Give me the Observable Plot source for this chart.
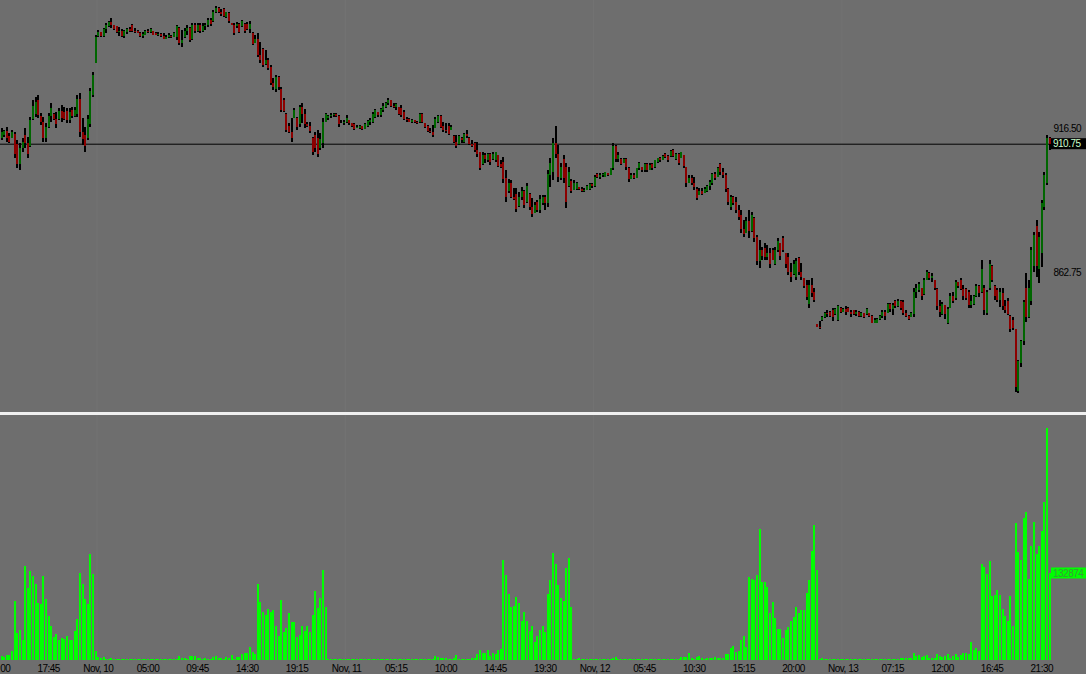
<!DOCTYPE html>
<html><head><meta charset="utf-8">
<script src="https://cdn.jsdelivr.net/npm/d3@7"></script>
<script src="https://cdn.jsdelivr.net/npm/@observablehq/plot@0.6"></script>
<style>
html,body{margin:0;padding:0;background:#6e6e6e;overflow:hidden;width:1086px;height:674px;}
#chart{width:1086px;position:relative;}
#chart svg{display:block;}
.divider{height:3px;background:#f0f0f0;}
</style></head><body><div id="chart"></div>
<script>
// ---- price bars (15-minute), index 1..402 ----
const high = [
916.5,916,917,914.75,915.75,915,912,911,912.75,916.5,
913.25,920.75,927,928.25,929,922.25,920.75,918.5,922.25,926,
922.25,922.5,924,925.25,924.5,924,924,924.5,924.5,929,
929.75,920.25,917,921.5,931.5,937.5,951.25,953.25,952.5,954,
955.75,956.5,957.75,955,954.75,954.25,953.5,953.25,954,954.25,
955.5,954,953.25,952.5,952.5,953.25,953.5,954,952.75,952.5,
952.5,952,952,951.25,952,951.25,952.5,955,954.25,953.25,
954,955,954.25,955.75,955.75,955.75,955.75,955.75,955.75,957.75,
957.75,960.75,962.25,961.75,961,961.5,960,960,955.75,955.75,
956.25,955.75,957,955.75,956.25,956.5,952.5,951.25,952,948.75,
946.5,945.75,942.75,940.25,935.25,936.5,936,932,927.75,922.25,
918.5,920.25,924,920.75,925.25,926,923.75,918.75,918.75,913.25,
915,915.75,914.75,920.25,922.25,921.5,922.25,922.25,922.25,921.5,
919.5,919.5,921.5,919.5,918.5,918.5,917.75,917.75,917.25,918.5,
919.5,920.25,922.5,923.75,922.5,924,926,926.25,927.75,927,
926,926,924.5,925.25,923.25,920.75,920.25,920,919.5,919.25,
922.25,922.25,918.5,917.75,916.5,917.75,920.75,921.5,921.5,918.75,
918.5,918.5,917.75,914,914,914,913.25,914.75,915.75,913.25,
912,911.5,911.5,907.75,907.75,907.25,907.25,907.25,907.75,907.75,
906.5,904.75,905.75,900.75,897.75,897.25,894.25,894.25,892.75,894.5,
893.5,896,892.25,890.5,889,889.75,891.5,891.5,891.5,900.75,
905.5,912.75,917.25,910.25,903.5,906.5,903.5,902,897.75,897.25,
896.5,894.75,894.75,894.25,895.25,896,896,899,899.75,899.75,
899.75,900.25,899.75,901.75,911,910.25,907.75,905.5,905.5,905.5,
902,899.75,899.75,901.75,903.75,902,903.5,903.5,903.5,903.5,
904.75,905.5,905.75,906.5,907.25,906.5,908.5,908.75,907.25,907.25,
907.75,906.5,902,899,899,898.25,894.5,894.25,894.25,894.5,
895.25,897.25,899.75,900.25,902,903.5,901.75,899.75,894.25,891.5,
891.25,890.75,887.75,886,882.25,883.5,886,885.25,883.5,876.75,
874.75,872.25,873.75,873,871.75,871.75,872.25,875.5,873.75,876.25,
870,870,866.25,867.25,868,868.5,866.25,860.75,859.75,859.75,
860.5,856.75,843.5,844.5,846.25,847.75,848.75,848.25,849.5,849.5,
850.5,849.75,849.5,850.25,849.75,848.75,848.75,848.5,848.25,847.75,
847.5,849.5,847.5,846.75,845.75,845.75,846.75,848.75,848.75,851.25,
851.25,851.25,852.5,852.75,852.5,852.5,848.75,846.75,847.75,856.75,
858.5,859,856.75,860.5,863.75,862.75,862.5,860,856.75,852.5,
851.75,850.5,849.75,855,855.25,859.75,859,860.5,858,856.75,
856,854.25,854.25,858.5,858,867.25,858,856,867.25,865.5,
858,856.75,857,856.75,852.5,853.25,846.75,846,841.75,830,
837.5,852.5,862.5,859.75,872.25,877.75,882.25,877.75,889.75,900.25,
914,913.25];
const low = [
912,913.25,911.5,911,912.75,905.5,901.75,901,907.75,909.25,
905.5,909.5,919.5,920.75,920.5,917.75,911.5,911.5,916.5,918.75,
919.5,916.5,919.5,918.75,919.5,918.5,918.5,920.5,920.75,920.75,
913.25,910.25,907.75,912,917,928.25,940.75,950.5,950.5,950.5,
952,954.25,954,953.25,952,951,950.5,950.25,951.75,952.5,
952.5,952,952,950.5,950.25,951.25,952,952,951.25,951.25,
951,950.5,949.75,949.75,950.25,950.25,950.5,949.5,947.5,947,
950.25,951.25,948.75,949.5,952,952.5,952,952.5,953.25,954.25,
954.75,956.25,959.5,959.5,958.5,958,957.75,955.75,955,951.25,
954,952,954.25,952,953.25,952,947.5,948.25,943,940.75,
939.5,940,938.25,932.75,930.75,930,930.75,922.5,922.5,915,
914.75,911.5,920.25,915.75,917,918.5,916.5,917,914.75,906.5,
907.75,905.75,908.5,909,918.75,919.5,920.5,920.75,920.75,917,
918.5,917.75,918.5,917.75,917,915.75,916.5,916.25,915.75,916.25,
917,917.75,918.5,920.25,920.75,920.75,922.5,924,925.25,924.5,
924,923.25,921.5,920.75,919.5,918.75,918.75,918.5,918.5,918,
918.5,918.5,916.5,915,914.75,913.25,916.5,918.5,916.5,915,
914.75,914,915.75,911,909.25,910.25,911,911,912.75,910.25,
909.5,907.75,905.75,900.75,902.75,903.5,904,902.75,904.75,904,
902,901.75,896,889,892.5,890.5,889.75,885.25,887.25,889.75,
886.75,888.5,886,883.5,884.75,885.25,884.75,887.75,886,887,
894.5,897.25,905.5,896.5,897.25,896,886.75,894.75,892.5,893.5,
893.5,893.5,892.75,892.75,893.5,893.5,894.25,894.5,898,897.5,
898.25,898.25,898.75,899,901,904,904,902.75,903.5,901,
896.5,897.5,897.5,898,901,900.25,900.25,900.25,901,901,
901.75,903.5,904,904.75,905.5,904,905.75,905.75,904.75,902.75,
905.5,901.75,894.5,896,895.25,893.5,889.75,891.5,891.5,892.5,
892.75,893.5,895.25,897.25,898.25,899,898,892.75,887.75,886,
887.75,884.75,882.25,877.5,876,877.5,875.5,877.75,874,865.5,
864.5,867.25,867.25,867.25,864.5,867.25,865.5,870.25,867.25,870.25,
864.5,861.75,859,861.75,860,861.75,859.75,856.75,852.25,849.5,
853.5,851.75,842.25,841.75,844.75,845.75,846,846,844.75,846.75,
844.75,847.5,847.75,846.75,847.75,846,846.75,846.5,846,846,
845.75,846.75,846,843.75,843.75,843.75,845,845.75,845,847.5,
847.75,846.75,849.5,849.75,848.75,846.75,846,845,846,846,
853.25,855.5,852.5,854.25,860,860,859.25,856.25,848.75,846,
846.75,845.5,843.5,849.5,851.25,852.5,856.75,856,852.5,852.5,
849.5,849.5,850.5,853.5,853.5,855,846.75,846.75,856.25,859.25,
852.5,851.75,849.75,848.75,847.5,846.75,840.5,841.25,818,817.75,
827.5,835.5,844.25,845.75,850.5,862.75,861,858.75,864.75,886,
895.25,908.5];
const open = [
913,914,915.5,913.75,913,914.5,910.5,903,909,914,
911,910,920,922,927,921,919,913,917,921,
922,920,920,923,922.5,923,919.5,923.5,921,922,
927.5,915,914,913,918,929,941,951,952.5,951,
953.5,954.75,956,955,954.5,952.5,953,951,952.5,953.5,
955,953,953,952.25,951,951.5,953,952.5,952.75,952.25,
951.5,951.75,951,950,950.5,951,950.75,950.5,954,948.5,
950.5,953,954,950,955,953,955,953,954.5,955,
957,956.5,960,961.5,960,961,958,959.5,955.75,955,
954.5,955.5,954.5,955.5,955.5,953.5,952,948.5,950,944,
946,940.5,942,939.5,933.5,931,935.5,931,927,922,
917.5,915,920.5,920.5,918,924.5,922,918,917.5,913,
914,913,909,911,919,920.5,921,921.5,921.75,921,
918.75,918.5,919,919.5,918.5,918,916.5,916.5,917.25,916.25,
917.5,919,919,920.75,922.5,921.5,923.5,924.5,926,927,
925,924.5,924.5,924,922.5,920,920,919,919.5,918.75,
918.75,922,918.5,917.5,915.5,915,916.75,919,921,917.5,
916,917.5,916,913.5,911.5,910.5,913,911.5,914.5,913,
910.5,911,908.5,907.5,903,906.5,904.5,907,905,904.5,
906.5,903,904,898,893,896,891,892,887.5,891,
893,889,892,887,885,889,886,888.5,891,888.5,
899,900,911,907,898,905,902,895,897,893.5,
894,894.75,893.75,893,893.5,894,895.75,895,899.5,898.25,
899,898.5,899.75,899,901.5,910,905,905,903.5,905,
901.5,897.5,899,898,901.5,902,901,903,901,903,
902,904,905.25,904.75,907,906.25,906,908.5,905,907,
905.5,906.5,902,896,898,896,894,891.5,893,892.5,
893,895,896,899.5,898.5,903,900,899,894,887,
891,889,886,884,879,877.5,882,878,883,876,
867,871,872,868.5,870,871,866,871,873.5,875.5,
870,868.5,863,862,861,868,863,860.5,858,851,
858,855.5,843.5,842.5,845,846,847.5,848,848.5,847,
845,849.5,848,849,849.5,848,848.5,847,848,846.5,
847.5,847,847.5,846.5,844,844,845.25,846.5,848,847.5,
851,849,852,850,852,851.5,847.5,846.5,846,847,
855.5,856,856.75,854.5,860,862.5,860.5,860,856.5,850,
847,850.5,844,849.5,854,853,859,860,856.5,856.5,
855.5,850.5,851,854,857.5,855.5,857,847.5,857,865,
857.5,856,852.5,855,850,852,846.5,845,841.5,818.5,
829,837,857,846,852,865,880,864,870,887,
896,913];
const close = [
915.25,915.5,913,911.5,915,907,903.25,909,911.5,911,
907,919.5,925,926.5,921.5,918.75,913,917,921,924,
920,918,923,920.5,920,919.5,922.5,921,923.5,927.5,
915,912.5,910,920,930.5,936.5,950.5,952.5,951,953.5,
955,956,955,953.5,952.5,953,951,952.75,953.5,953,
953,952.5,952.25,951,951.75,953,952.5,953.75,951.5,951.5,
951.75,951,950,950.5,951.5,950.5,952.25,954.5,948.5,949.5,
953,954,949.5,955,953,955,953,954.5,955,957,
955.5,960,961.5,960,959,958.5,959.75,956.5,955,952,
955.5,952.5,956.5,953,953.5,955.5,948,950,944,942,
940,942,939,933.5,932,935.5,932,923.5,923,916,
915,913,923.5,917,924.5,922,918,917.5,915.5,907.5,
909,907,912.5,919,922,921,921.5,921.75,921,918,
919,919,920.5,918.5,917.25,916.25,917,917.5,916.25,918,
919.25,919.75,922,923.5,921.5,923.75,925,926,927,925,
924.5,925.5,922,921.5,920,919.5,919,919.5,918.75,918.5,
922,919,917,915.5,915,914,920,921,917,916,
915.5,914.5,917,911.5,910,913.5,912,914.5,913.5,910.5,
910,908.5,907,901.5,906.5,905,907,904,907,907.5,
902.5,902,897.5,891,896,891,890,886.5,891,893,
888,895,887,884.5,888,886,890,891,888.5,899.5,
903.5,911,907,898.5,902,898,889,900,893,896,
896,893.75,893,893.5,895,895.75,895,898.5,898.25,899,
899.5,900,899,901.5,910,905,906.5,903.25,905,902,
897.5,899,898,901.5,903.5,901,903,900.75,902.75,901.5,
904.5,905.25,904.5,906.25,905.75,904.5,908,906,907,903.5,
907.5,902.5,896,898,896,894.5,890.5,893,892,894,
895,896.5,899.5,898,901.5,900,899,894,889,891,
888.5,886,883.5,879,877,882,878,884,875.5,867,
871,869,868.5,870,866,867.5,871,874.5,869,871,
866,863,861,866,867,863,861,857.5,853.5,858,
855,852.5,842.5,842,846,847.5,847,846.5,846,849,
850,848,849,848,848,847,847,848,846.5,847.5,
846,849,846.25,844,845,845.5,846.5,848,846.5,851,
849,850.5,850,852,849.5,847.5,846.5,845.25,847.5,855.5,
857,858.5,854,860,863,860.5,861.5,857,850,848,
851,847,849,854,852,859,857.5,856.5,854,853,
850.5,852,854,857.5,855,864,848.5,855.5,866,860,
854,852.5,855.5,850,848.5,847,841.5,842,820,829.5,
837,851.5,846,857,871,876.5,865,876,888.5,899,
913,910.75];
// ---- volume per bar ----
const volume = [
6100,5100,7600,7600,13700,90000,41200,46300,30500,144000,
110000,135900,128000,116500,87000,85500,128700,93200,67200,51900,
35100,39200,30500,34100,32600,36600,30500,30500,44300,62100,
132800,116500,93700,86000,161900,131800,13700,5100,2500,5100,
1500,1500,3000,1500,1500,1500,1500,1500,1500,1500,
1500,1500,1500,1500,1500,1500,1500,1500,1500,1500,
1500,1500,1500,1500,1500,1500,1500,1500,6100,3000,
3000,1500,6100,6100,6100,3000,3000,1500,3000,1500,
1500,5100,6100,3000,3000,1500,4600,3000,7100,1500,
5100,5100,9200,10200,10200,19800,12700,9000,116000,88500,
73300,68700,77900,73300,76300,51900,36600,91600,42800,48900,
71800,58000,58000,35100,38200,51900,44300,51900,42800,68700,
105400,79400,94700,137400,80900,1500,1500,1500,1500,1500,
1500,1500,1500,1500,1500,1500,1500,1500,1500,1500,
1500,1500,1500,1500,1500,1500,1500,1500,1500,1500,
1500,1500,1500,1500,1500,1500,1500,1500,1500,1500,
1500,1500,1500,1500,1500,1500,6100,4600,3000,3000,
3000,1500,1500,3000,7600,1500,1500,1500,1500,1500,
3000,3000,9200,15300,11200,11200,15300,6100,10700,9200,
15300,16800,152700,129800,100800,80900,82500,96200,87000,59600,
73300,59600,44300,51900,27500,36600,45800,51900,42800,100800,
122200,163400,146600,114500,94700,90100,140500,155800,80900,1500,
1500,3000,1500,1500,1500,1500,1500,1500,1500,1500,
1500,1500,1500,1500,3000,4600,1500,1500,1500,1500,
1500,1500,1500,1500,1500,1500,1500,1500,1500,1500,
1500,1500,1500,1500,1500,1500,1500,1500,1500,1500,
4600,4600,4600,10700,3000,1500,4600,6100,3000,1500,
3000,3000,3000,4600,3000,3000,3000,9200,9200,18300,
21400,12200,13700,30500,36600,19800,126700,123700,122200,129800,
200000,119100,119100,111500,71800,88500,64100,47300,47300,33600,
45800,50400,59600,65700,80900,71800,76300,76300,102300,122200,
166400,206100,137400,1500,3000,1500,1500,1500,1500,1500,
1500,1500,1500,1500,1500,1500,1500,1500,1500,1500,
1500,1500,1500,1500,1500,1500,1500,1500,1500,1500,
1500,1500,1500,1500,3000,3000,3000,3000,3000,10700,
6100,7600,4600,6100,7600,3000,3000,3000,9200,6100,
4600,6100,9200,3000,6100,9200,4600,7600,10700,10700,
9200,27500,15300,18300,13700,146600,142500,131300,151200,98200,
99800,106900,99300,77900,67200,59600,97700,51900,208700,164900,
152700,216800,226000,123700,174100,210700,161900,174100,197000,241800,
354300,132874];
// ---- time axis ----
const tickIndex = [0,19,38,57,76,95,114,133,152,171,190,209,228,247,266,285,304,323,342,361,380,399];
const tickLabels = ["13:00","17:45","Nov, 10","05:00","09:45","14:30","19:15","Nov, 11","05:15","10:00","14:45","19:30","Nov, 12","05:45","10:30","15:15","20:00","Nov, 13","07:15","12:00","16:45","21:30"];
const dayBreaks = [37.5,132.5,227.5,322.5];
const priceTicks = [916.5, 862.75];
const lastPrice = 910.75;
const lastVolume = 132874;

const bars = high.map((h,k)=>({i:k+1, high:h, low:low[k], open:open[k], close:close[k], vol:volume[k]}));
const bg = "#6e6e6e", upC = "#006600", dnC = "#8c0000", volC = "#00ff00";
const font = {background:bg, color:"black", fontFamily:"'Liberation Sans', Arial, sans-serif", fontSize:"10px", letterSpacing:"-0.5px", overflow:"visible"};
const xDomain = [0.574, 402.33];

const pricePlot = Plot.plot({
  width:1086, height:412, marginLeft:0, marginRight:36, marginTop:0, marginBottom:0,
  style:font,
  x:{domain:xDomain, axis:null},
  y:{domain:[810.6, 964.39], axis:"right", ticks:priceTicks, tickFormat:d3.format(".2f"), tickSize:0, tickPadding:3, label:null},
  marks:[
    Plot.ruleX(dayBreaks,{stroke:"#737373", strokeWidth:1}),
    Plot.ruleY([lastPrice],{stroke:"black", strokeWidth:1}),
    Plot.ruleX(bars,{x:"i", y1:"low", y2:"high", stroke:"black", strokeWidth:2, shapeRendering:"crispEdges"}),
    Plot.ruleX(bars.filter(d=>d.close!==d.open),{x:"i", y1:"open", y2:"close", stroke:d=>d.close>d.open?upC:dnC, strokeWidth:2, shapeRendering:"crispEdges"})
  ]
});

const volPlot = Plot.plot({
  width:1086, height:259, marginLeft:0, marginRight:36, marginTop:0, marginBottom:14,
  style:font,
  x:{domain:xDomain, ticks:tickIndex, tickFormat:d=>tickLabels[tickIndex.indexOf(d)], tickSize:0, tickPadding:4, label:null},
  y:{domain:[0, 374100], axis:null},
  marks:[
    Plot.ruleX(dayBreaks,{stroke:"#737373", strokeWidth:1}),
    Plot.ruleX(bars,{x:"i", y1:0, y2:"vol", stroke:volC, strokeWidth:2, shapeRendering:"crispEdges"})
  ]
});

const root = document.getElementById("chart");
root.appendChild(pricePlot);
const div = document.createElement("div"); div.className = "divider"; root.appendChild(div);
root.appendChild(volPlot);

// last-price and last-volume tags, positioned through the plots' own scales
const py = pricePlot.scale("y").apply(lastPrice);
const ps = d3.select(pricePlot);
ps.append("rect").attr("x",1051).attr("y",py-5.5).attr("width",35).attr("height",11).attr("fill","black");
ps.append("text").attr("x",1053).attr("y",py).attr("dy","0.36em").attr("text-anchor","start").attr("fill","#ccffcc").text(d3.format(".2f")(lastPrice));
const vy = volPlot.scale("y").apply(lastVolume);
const vs = d3.select(volPlot);
vs.append("rect").attr("x",1051).attr("y",vy-5.5).attr("width",35).attr("height",11).attr("fill",volC);
vs.append("text").attr("x",1053).attr("y",vy).attr("dy","0.36em").attr("text-anchor","start").attr("fill","#3a9a3a").text(String(lastVolume));
</script></body></html>
